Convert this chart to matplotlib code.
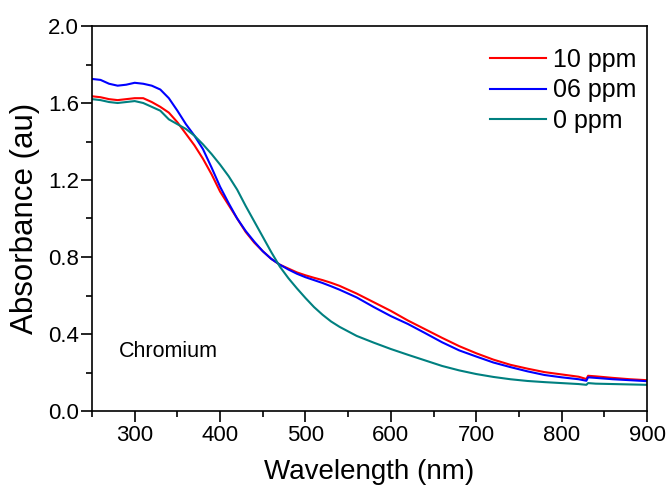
import matplotlib
matplotlib.use('Agg')
import matplotlib.pyplot as plt
from matplotlib.ticker import MultipleLocator, FormatStrFormatter

# wavelength grid (nm)
wl = [250, 260, 270, 280, 290, 300, 310, 320, 330, 340, 350, 360, 370, 380,
      390, 400, 410, 420, 430, 440, 450, 460, 470, 480, 490, 500, 510, 520,
      530, 540, 560, 580, 600, 620, 640, 660, 680, 700, 720, 740, 760, 780,
      800, 820, 829, 831, 840, 860, 880, 900]

abs_10ppm = [1.635, 1.63, 1.62, 1.615, 1.62, 1.625, 1.625, 1.605, 1.58, 1.55,
             1.50, 1.44, 1.38, 1.31, 1.23, 1.14, 1.07, 1.00, 0.93, 0.875,
             0.83, 0.79, 0.76, 0.74, 0.72, 0.705, 0.692, 0.68, 0.666, 0.65,
             0.61, 0.565, 0.52, 0.47, 0.425, 0.38, 0.337, 0.30, 0.267, 0.24,
             0.22, 0.202, 0.19, 0.178, 0.166, 0.183, 0.18, 0.172, 0.165, 0.16]

abs_06ppm = [1.725, 1.72, 1.70, 1.69, 1.695, 1.705, 1.70, 1.69, 1.67, 1.625,
             1.56, 1.49, 1.43, 1.36, 1.265, 1.165, 1.08, 1.00, 0.935, 0.88,
             0.83, 0.79, 0.76, 0.735, 0.713, 0.695, 0.68, 0.665, 0.648, 0.63,
             0.59, 0.54, 0.493, 0.452, 0.405, 0.357, 0.315, 0.283, 0.252, 0.228,
             0.206, 0.187, 0.175, 0.165, 0.157, 0.175, 0.172, 0.165, 0.16, 0.155]

abs_0ppm = [1.62, 1.615, 1.605, 1.60, 1.605, 1.61, 1.60, 1.58, 1.56, 1.515,
            1.49, 1.465, 1.43, 1.385, 1.335, 1.28, 1.22, 1.15, 1.065, 0.985,
            0.905, 0.825, 0.75, 0.69, 0.637, 0.587, 0.54, 0.5, 0.465, 0.437,
            0.39, 0.355, 0.322, 0.292, 0.263, 0.234, 0.211, 0.192, 0.177, 0.165,
            0.156, 0.15, 0.145, 0.14, 0.136, 0.145, 0.142, 0.14, 0.138, 0.136]

labels = ['10 ppm', '06 ppm', '0 ppm']
colors = ['#ff0000', '#0000ff', '#008080']

plt.rcParams['font.family'] = ['Liberation Sans', 'DejaVu Sans']

fig = plt.figure(figsize=(6.72, 4.95), dpi=100)
ax = fig.add_axes([92/672, 1 - 411/495, (647-92)/672, (411-26)/495])

for y, lab, col in zip([abs_10ppm, abs_06ppm, abs_0ppm], labels, colors):
    ax.plot(wl, y, color=col, linewidth=1.5, label=lab)

ax.set_xlim(250, 900)
ax.set_ylim(0, 2.0)
ax.xaxis.set_major_locator(MultipleLocator(100))
ax.xaxis.set_minor_locator(MultipleLocator(50))
ax.yaxis.set_major_locator(MultipleLocator(0.4))
ax.yaxis.set_minor_locator(MultipleLocator(0.2))
ax.yaxis.set_major_formatter(FormatStrFormatter('%.1f'))
ax.tick_params(which='both', direction='out', width=1.2, top=False, right=False)
ax.tick_params(which='major', length=8, labelsize=16)
ax.tick_params(which='minor', length=4)
ax.tick_params(axis='x', pad=2.2)
ax.tick_params(axis='y', pad=1.5)
for s in ax.spines.values():
    s.set_linewidth(1.2)

ax.set_xlabel('Wavelength (nm)', fontsize=20, va='top')
ax.xaxis.set_label_coords(0.5, -0.125)
ax.set_ylabel('Absorbance (au)', fontsize=22.5)
ax.yaxis.set_label_coords(-0.094, 0.5)

ax.text(281.6, 0.31, 'Chromium', fontsize=15.5, va='center', ha='left')

ax.legend(loc='upper right', frameon=False, fontsize=18, handlelength=2.24,
          handletextpad=0.28, labelspacing=0.26, borderaxespad=0, borderpad=0,
          bbox_to_anchor=(0.98, 0.943))

fig.savefig('out.png', dpi=100)
